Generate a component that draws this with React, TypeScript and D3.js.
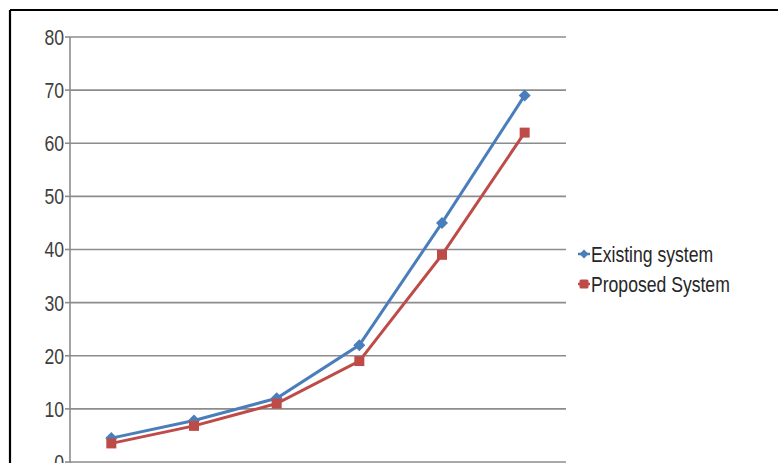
import React from "react";
import * as d3 from "d3";

const categories = ["1", "2", "3", "4", "5", "6"];
const existingSystem = [4.5, 7.8, 12, 22, 45, 69];
const proposedSystem = [3.5, 6.8, 11, 19, 39, 62];
const yTicks = [0, 10, 20, 30, 40, 50, 60, 70, 80];
const seriesNames = ["Existing system", "Proposed System"];

const W = 778;
const H = 463;
const FONT = "'Liberation Sans', Arial, sans-serif";
const BLUE = "#4A7EBB";
const RED = "#BE4B48";
const SX = 0.8;

export default function App() {
  const x = d3.scaleBand<string>().domain(categories).range([70, 566]);
  const y = d3.scaleLinear().domain([0, 80]).range([462, 37]);
  const cx = (c: string) => (x(c) as number) + x.bandwidth() / 2;
  const line = d3
    .line<number>()
    .x((_, i) => cx(categories[i]))
    .y((d) => y(d));

  return (
    <svg
      width={W}
      height={H}
      style={{ position: "absolute", left: 0, top: 0, background: "#fff" }}
    >
      <rect x={0} y={0} width={W} height={H} fill="#fff" />
      {/* outer border */}
      <line x1={10} y1={10} x2={W} y2={10} stroke="#000" strokeWidth={2.2} />
      <line x1={10} y1={10} x2={10} y2={H} stroke="#000" strokeWidth={2.2} />

      {/* gridlines */}
      {yTicks.map((t) => (
        <g key={t}>
          <line x1={70} x2={566} y1={y(t)} y2={y(t)} stroke="#8c8c8c" strokeWidth={1.6} />
          <line x1={65} x2={70} y1={y(t)} y2={y(t)} stroke="#8c8c8c" strokeWidth={1.6} />
          <text
            transform={`translate(64,${y(t)}) scale(${SX},1)`}
            dy="0.36em"
            textAnchor="end"
            fontFamily={FONT}
            fontSize={22}
            fill="#404040"
          >
            {t}
          </text>
        </g>
      ))}
      {/* y axis */}
      <line x1={70} x2={70} y1={y(80)} y2={H} stroke="#8c8c8c" strokeWidth={1.6} />

      {/* series */}
      <path d={line(existingSystem) || ""} fill="none" stroke={BLUE} strokeWidth={3} />
      <path d={line(proposedSystem) || ""} fill="none" stroke={RED} strokeWidth={3} />
      {existingSystem.map((v, i) => {
        const px = cx(categories[i]);
        const py = y(v);
        return (
          <path
            key={"e" + i}
            d={`M${px},${py - 6}L${px + 6},${py}L${px},${py + 6}L${px - 6},${py}Z`}
            fill={BLUE}
          />
        );
      })}
      {proposedSystem.map((v, i) => {
        const px = cx(categories[i]);
        const py = y(v);
        return <rect key={"p" + i} x={px - 5} y={py - 5} width={10} height={10} fill={RED} />;
      })}

      {/* legend */}
      {seriesNames.map((name, i) => {
        const ly = 254 + i * 30;
        const lx = 584;
        return (
          <g key={name}>
            <line x1={lx - 6} x2={lx + 6} y1={ly} y2={ly} stroke={i === 0 ? BLUE : RED} strokeWidth={2.5} />
            {i === 0 ? (
              <path d={`M${lx},${ly - 4.5}L${lx + 4.5},${ly}L${lx},${ly + 4.5}L${lx - 4.5},${ly}Z`} fill={BLUE} />
            ) : (
              <rect x={lx - 4.5} y={ly - 4.5} width={9} height={9} fill={RED} rx={1.5} />
            )}
            <text
              transform={`translate(591,${ly}) scale(${SX},1)`}
              dy="0.36em"
              fontFamily={FONT}
              fontSize={22}
              fill="#262626"
            >
              {name}
            </text>
          </g>
        );
      })}
    </svg>
  );
}
